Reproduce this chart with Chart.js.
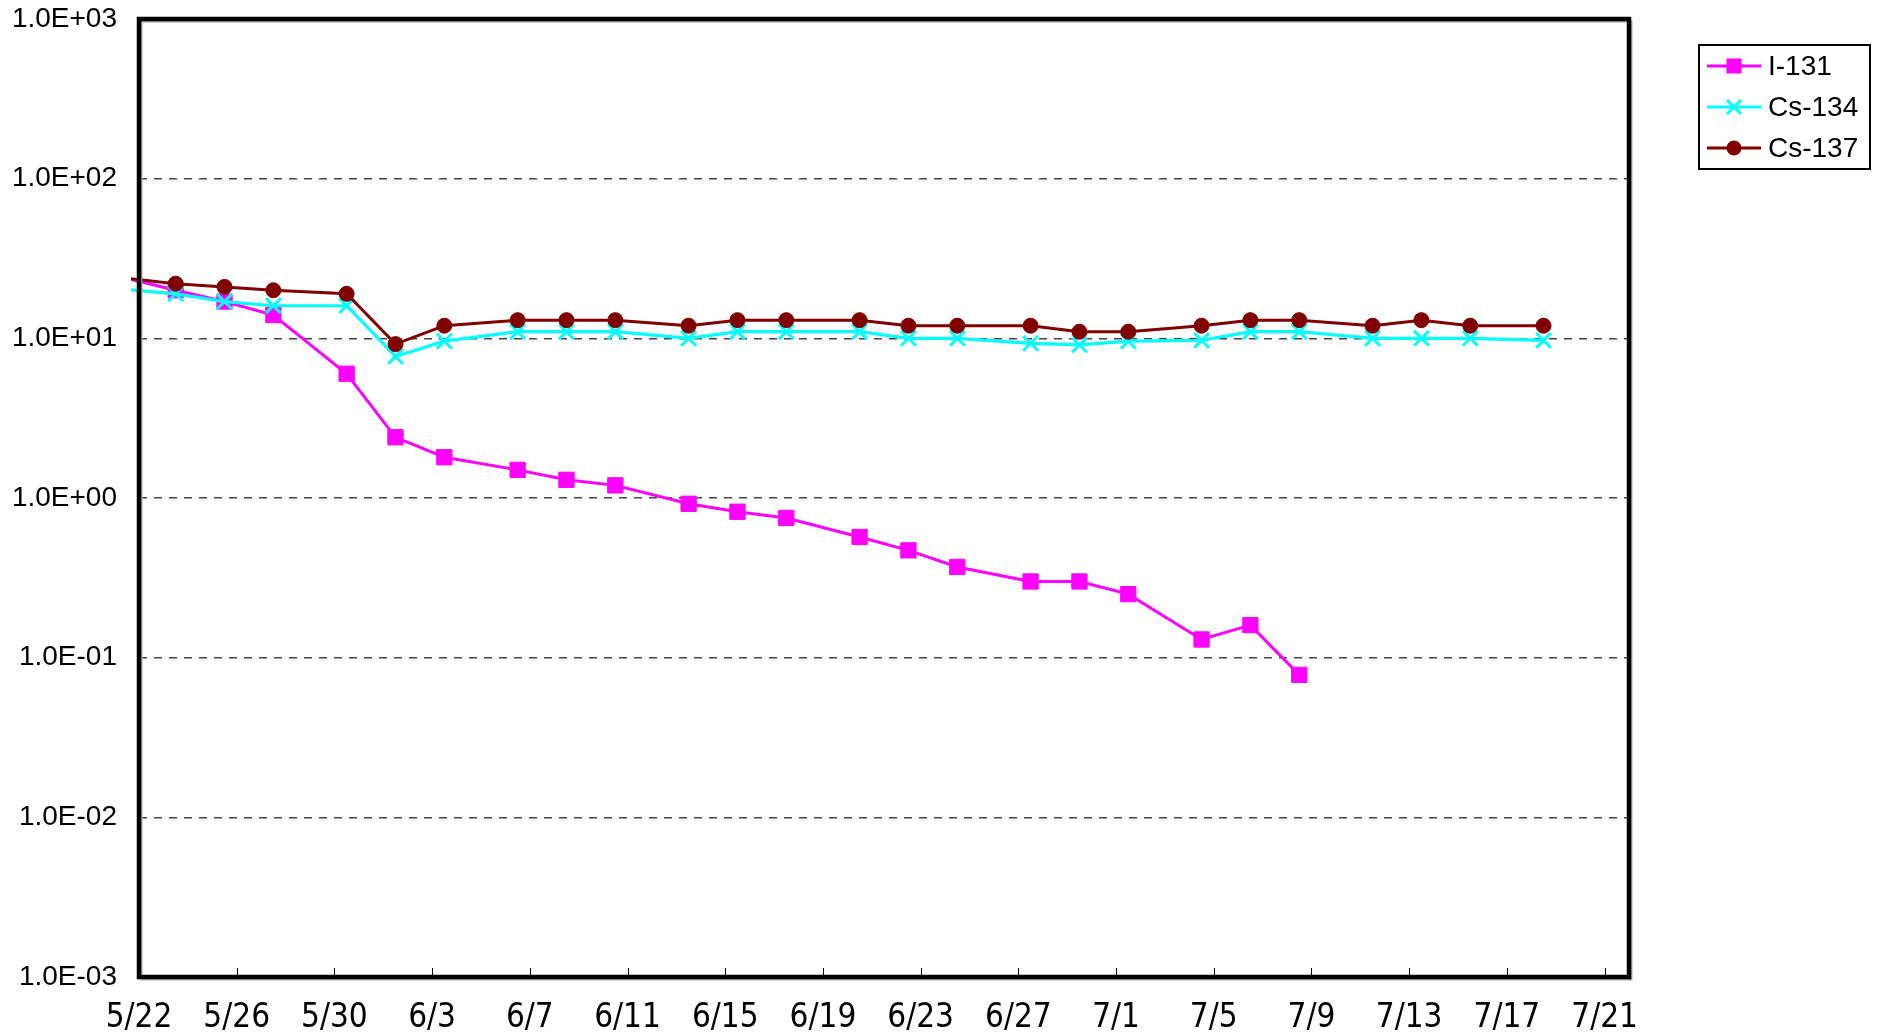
<!DOCTYPE html>
<html>
<head>
<meta charset="utf-8">
<script src="https://cdn.jsdelivr.net/npm/chart.js@4.4.0/dist/chart.umd.min.js"></script>
<style>
html, body { margin: 0; padding: 0; background: #fff; }
#wrap { width: 1877px; height: 1035px; }
</style>
</head>
<body>
<div id="wrap"><canvas id="chart" width="1877" height="1035"></canvas></div>
<script>
// sampling times (first one lies before the axis start and is clipped)
var sampleDates = ['2011-05-20T12:00', '2011-05-23T12:00', '2011-05-25T12:00', '2011-05-27T12:00',
    '2011-05-30T12:00', '2011-06-01T12:00', '2011-06-03T12:00', '2011-06-06T12:00',
    '2011-06-08T12:00', '2011-06-10T12:00', '2011-06-13T12:00', '2011-06-15T12:00',
    '2011-06-17T12:00', '2011-06-20T12:00', '2011-06-22T12:00', '2011-06-24T12:00',
    '2011-06-27T12:00', '2011-06-29T12:00', '2011-07-01T12:00', '2011-07-04T12:00',
    '2011-07-06T12:00', '2011-07-08T12:00', '2011-07-11T12:00', '2011-07-13T12:00',
    '2011-07-15T12:00', '2011-07-18T12:00']
var i131 = [25.9, 20, 17, 14, 6.0, 2.4, 1.8, 1.5, 1.3, 1.2, 0.92, 0.82, 0.75, 0.57, 0.47, 0.37,
    0.30, 0.30, 0.25, 0.13, 0.16, 0.078, null, null, null, null]
var cs134 = [20.9, 19, 17, 16, 16, 7.7, 9.6, 11, 11, 11, 10, 11, 11, 11, 10, 10,
    9.3, 9.1, 9.6, 9.7, 11, 11, 10, 10, 10, 9.7]
var cs137 = [24.7, 22, 21, 20, 19, 9.2, 12, 13, 13, 13, 12, 13, 13, 13, 12, 12,
    12, 11, 11, 12, 13, 13, 12, 13, 12, 12]
var xTickLabels = ['5/22', '5/26', '5/30', '6/3', '6/7', '6/11', '6/15', '6/19', '6/23',
    '6/27', '7/1', '7/5', '7/9', '7/13', '7/17', '7/21']
var yTickValues = [0.001, 0.01, 0.1, 1, 10, 100, 1000]
var yTickLabels = ['1.0E-03', '1.0E-02', '1.0E-01', '1.0E+00', '1.0E+01', '1.0E+02', '1.0E+03']

var baseDay = new Date(2011, 4, 22).getTime()
var DAY = 86400000
function toDay(s) {
    return (new Date(s).getTime() - baseDay) / DAY
}
function labelDay(s) {
    var p = s.split('/')
    return (new Date(2011, +p[0] - 1, +p[1]).getTime() - baseDay) / DAY
}
function points(values) {
    var out = []
    for (var i = 0; i < values.length; i++) {
        if (values[i] !== null) out.push({ x: toDay(sampleDates[i]), y: values[i] })
    }
    return out
}

var frame = {
    id: 'frame',
    beforeDraw: function (chart) {
        var ctx = chart.ctx
        ctx.save()
        ctx.fillStyle = '#fff'
        ctx.fillRect(0, 0, chart.width, chart.height)
        ctx.restore()
    },
    afterDatasetsDraw: function (chart) {
        var ctx = chart.ctx
        var a = chart.chartArea
        ctx.save()
        // inner tick marks on the date axis
        var xs = chart.scales.x
        ctx.strokeStyle = '#000'
        ctx.lineWidth = 1
        xs.ticks.forEach(function (t) {
            var px = Math.round(xs.getPixelForValue(t.value)) + 0.5
            ctx.beginPath()
            ctx.moveTo(px, a.bottom)
            ctx.lineTo(px, a.bottom - 9)
            ctx.stroke()
        })
        // shadow + frame
        ctx.strokeStyle = '#a8a8a8'
        ctx.lineWidth = 2
        ctx.strokeRect(a.left + 2.5, a.top + 2.5, a.right - a.left, a.bottom - a.top)
        ctx.strokeStyle = '#000'
        ctx.lineWidth = 4.5
        ctx.strokeRect(a.left, a.top, a.right - a.left, a.bottom - a.top)

        // legend
        var lx = 1699, ly = 45, lw = 171, lh = 124
        ctx.lineWidth = 2
        ctx.strokeRect(lx, ly, lw, lh)
        var rows = [66, 107, 148]
        ctx.font = '28px "Liberation Sans", Arial, sans-serif'
        ctx.textBaseline = 'middle'
        ctx.textAlign = 'left'
        chart.data.datasets.forEach(function (ds, i) {
            var y = rows[i]
            ctx.strokeStyle = ds.borderColor
            ctx.lineWidth = 3
            ctx.beginPath()
            ctx.moveTo(1707, y)
            ctx.lineTo(1761, y)
            ctx.stroke()
            var cx = 1734
            ctx.fillStyle = ds.pointBackgroundColor
            ctx.strokeStyle = ds.pointBorderColor
            if (ds.pointStyle === 'rect') {
                ctx.fillRect(cx - 7.5, y - 7.5, 15, 15)
            } else if (ds.pointStyle === 'circle') {
                ctx.beginPath()
                ctx.arc(cx, y, 7.5, 0, Math.PI * 2)
                ctx.fill()
            } else {
                ctx.lineWidth = 3
                ctx.beginPath()
                ctx.moveTo(cx - 7, y - 7)
                ctx.lineTo(cx + 7, y + 7)
                ctx.moveTo(cx - 7, y + 7)
                ctx.lineTo(cx + 7, y - 7)
                ctx.stroke()
            }
            ctx.fillStyle = '#000'
            ctx.fillText(ds.label, 1768, y + 1)
        })
        ctx.restore()
    }
}

var clipArea = { left: 8, top: 0, right: 0, bottom: 0 }

var ctx = document.getElementById('chart').getContext('2d')
var myChart = new Chart(ctx, {
    type: 'line',
    data: {
        datasets: [{
            label: 'I-131',
            data: points(i131),
            borderColor: '#ff00ff',
            borderWidth: 3,
            pointStyle: 'rect',
            pointRadius: 10.8,
            pointBackgroundColor: '#ff00ff',
            pointBorderColor: '#ff00ff',
            pointBorderWidth: 1,
            clip: clipArea,
            order: 3
        },
        {
            label: 'Cs-134',
            data: points(cs134),
            borderColor: '#00ffff',
            borderWidth: 3.2,
            pointStyle: 'crossRot',
            pointRadius: 10.5,
            pointBackgroundColor: '#00ffff',
            pointBorderColor: '#00ffff',
            pointBorderWidth: 3,
            clip: clipArea,
            order: 2
        },
        {
            label: 'Cs-137',
            data: points(cs137),
            borderColor: '#800000',
            borderWidth: 3,
            pointStyle: 'circle',
            pointRadius: 7.5,
            pointBackgroundColor: '#800000',
            pointBorderColor: '#800000',
            pointBorderWidth: 1,
            clip: clipArea,
            order: 1
        }]
    },
    options: {
        responsive: false,
        devicePixelRatio: 1,
        animation: false,
        layout: { padding: { left: 0, top: 19, right: 248, bottom: 0 } },
        plugins: { legend: { display: false }, tooltip: { enabled: false } },
        elements: { line: { tension: 0 } },
        scales: {
            x: {
                type: 'linear',
                min: 0,
                max: 61,
                afterBuildTicks: function (scale) {
                    scale.ticks = xTickLabels.map(function (l) { return { value: labelDay(l) } })
                },
                afterFit: function (scale) {
                    scale.height = 58
                    scale.paddingLeft = 0
                    scale.paddingRight = 0
                },
                grid: { display: false, drawTicks: false },
                border: { display: false },
                ticks: {
                    autoSkip: false,
                    maxRotation: 0,
                    padding: 22,
                    color: '#000',
                    font: { family: '"Liberation Sans Narrow", "Arial Narrow", "DejaVu Sans Condensed", sans-serif', size: 33 },
                    callback: function (v, i) { return xTickLabels[i] }
                }
            },
            y: {
                type: 'logarithmic',
                min: 0.001,
                max: 1000,
                afterBuildTicks: function (scale) {
                    scale.ticks = yTickValues.map(function (v) { return { value: v } })
                },
                afterFit: function (scale) {
                    scale.width = 139
                    scale.paddingTop = 0
                    scale.paddingBottom = 0
                },
                grid: { color: '#444', lineWidth: 1.5, drawTicks: false },
                border: { display: false, dash: [8, 7] },
                ticks: {
                    autoSkip: false,
                    padding: 22,
                    color: '#000',
                    font: { family: '"Liberation Sans", Arial, sans-serif', size: 28 },
                    callback: function (v, i) { return yTickLabels[i] }
                }
            }
        }
    },
    plugins: [frame]
})
</script>
</body>
</html>
